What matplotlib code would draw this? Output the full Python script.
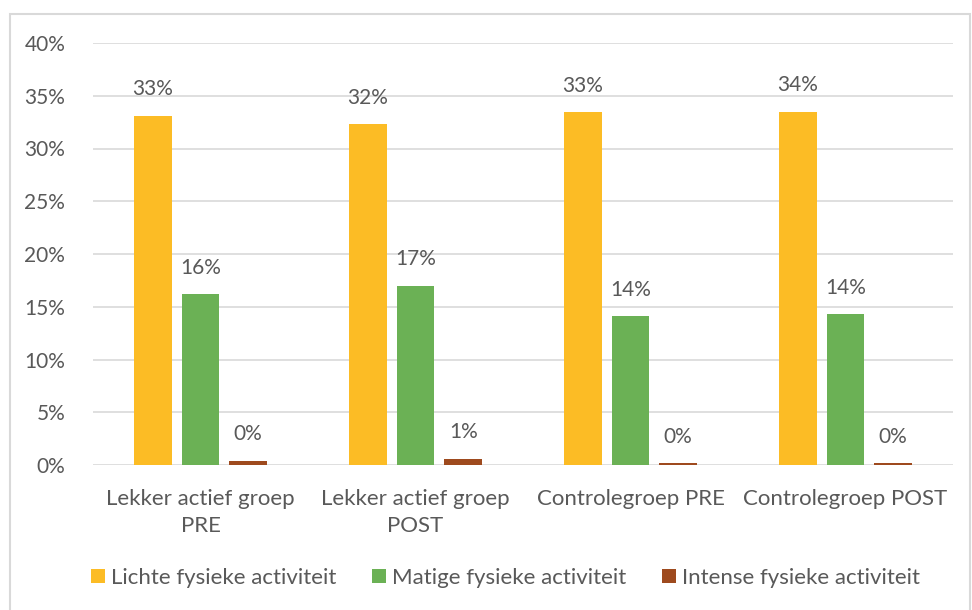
import numpy as np
import matplotlib.pyplot as plt
from matplotlib.patches import Rectangle

groups = ["Lekker actief groep\nPRE", "Lekker actief groep\nPOST",
          "Controlegroep PRE", "Controlegroep POST"]
series = ["Lichte fysieke activiteit", "Matige fysieke activiteit",
          "Intense fysieke activiteit"]
licht = [33.1, 32.3, 33.45, 33.5]
matig = [16.2, 17.0, 14.1, 14.3]
intens = [0.4, 0.6, 0.2, 0.2]
labels = [["33%", "32%", "33%", "34%"],
          ["16%", "17%", "14%", "14%"],
          ["0%", "1%", "0%", "0%"]]
colors = ["#FCBC25", "#6BB155", "#9E4A1E"]
txt = "#595959"

plt.rcParams['font.family'] = ['Lato', 'DejaVu Sans']

fig = plt.figure(figsize=[9.72, 6.1], dpi=100)
ax = fig.add_axes([93/972, 1-465/610, 860/972, 422/610])

x = np.arange(len(groups))
w = 0.175
step = 0.222
for i, (vals, c) in enumerate(zip([licht, matig, intens], colors)):
    xs = x + (i-1)*step
    ax.bar(xs, vals, w, color=c, label=series[i], zorder=3)
    for xx, v, lab in zip(xs, vals, labels[i]):
        ax.annotate(lab, (xx, v), xytext=(0, 19), textcoords="offset points",
                    ha="center", va="center", fontsize=15, color=txt)

ax.set_ylim(0, 40)
ax.set_xlim(-0.5, 3.5)
ax.set_yticks(np.arange(0, 41, 5))
ax.set_yticklabels([f"{t}%" for t in range(0, 41, 5)])
ax.set_xticks(x)
ax.set_xticklabels(groups, fontsize=16, linespacing=1.45)
ax.tick_params(axis='y', length=0, labelsize=15, colors=txt, pad=20)
ax.tick_params(axis='x', length=0, colors=txt, pad=17)
ax.grid(axis='y', color="#D9D9D9", linewidth=1.2, zorder=0)
for s in ax.spines.values():
    s.set_visible(False)

ax.legend(loc="center", bbox_to_anchor=(0.5 - 0.02, -(578-465)/422),
          ncol=3, frameon=False, fontsize=16, labelcolor=txt,
          handlelength=0.6, handleheight=0.6, handletextpad=0.3, columnspacing=1.6)

fig.patches.append(Rectangle((10/972, -0.01), 960/972, 1-14/610+0.01,
                             transform=fig.transFigure, fill=False,
                             edgecolor="#D9D9D9", linewidth=1.5))

plt.savefig("out.png", dpi=100)
